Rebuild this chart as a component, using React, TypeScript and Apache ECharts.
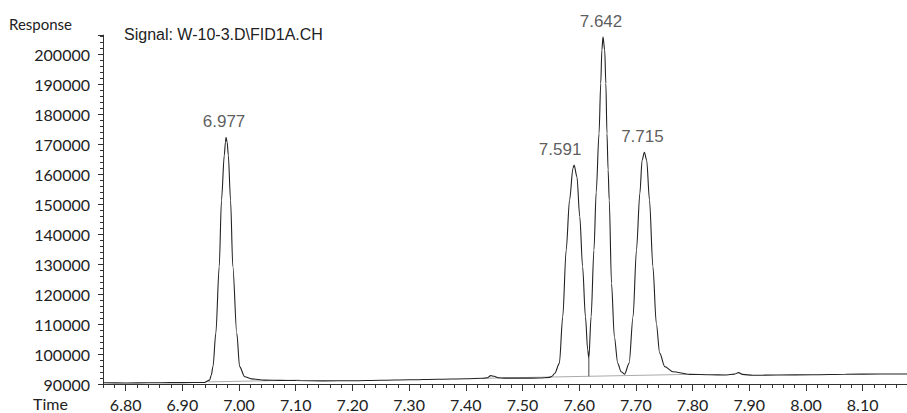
import React, { useEffect, useRef } from 'react';
import * as echarts from 'echarts';

const signalTitle = 'Signal: W-10-3.D\\FID1A.CH';
const yAxisTitle = 'Response';
const xAxisTitle = 'Time';

// Chromatogram trace: [time (min), response]
const trace: [number, number][] = [
  [6.76, 90400], [6.8, 90350], [6.84, 90400], [6.88, 90450], [6.92, 90500], [6.939, 90500],
  [6.948, 91300], [6.951, 93000], [6.954, 95800], [6.959, 106900], [6.965, 129200], [6.969, 151400],
  [6.974, 166500], [6.976, 170800], [6.977, 172400], [6.979, 170800], [6.981, 166500], [6.985, 151400],
  [6.989, 129200], [6.996, 106900], [7.001, 95800], [7.01, 92400], [7.022, 91700], [7.045, 91300],
  [7.072, 91200], [7.1, 91150], [7.15, 91050], [7.2, 91100], [7.25, 91250], [7.3, 91400],
  [7.35, 91600], [7.4, 91750], [7.43, 91900], [7.438, 92100], [7.444, 92800], [7.45, 92600],
  [7.457, 92100], [7.47, 91950], [7.5, 91950], [7.53, 92000], [7.548, 92200], [7.552, 92600],
  [7.557, 93600], [7.565, 96900], [7.571, 112500], [7.577, 134700], [7.583, 151400], [7.589, 162000],
  [7.591, 163100], [7.596, 159200], [7.601, 145900], [7.606, 129200], [7.611, 112500], [7.615, 101400],
  [7.617, 98600], [7.621, 112500], [7.626, 134700], [7.63, 154100], [7.635, 173700], [7.638, 190400],
  [7.64, 201500], [7.642, 205900], [7.645, 201500], [7.647, 190400], [7.649, 173700], [7.651, 161500],
  [7.653, 151400], [7.657, 123600], [7.662, 105800], [7.668, 96900], [7.674, 94100], [7.68, 93300],
  [7.688, 96900], [7.695, 112500], [7.701, 134700], [7.707, 153700], [7.711, 164800], [7.715, 167400],
  [7.719, 164800], [7.724, 151400], [7.73, 129200], [7.736, 110300], [7.742, 100300], [7.751, 95800],
  [7.765, 94100], [7.795, 93200], [7.83, 93100], [7.86, 93000], [7.874, 93300], [7.881, 93800],
  [7.888, 93200], [7.906, 92900], [7.95, 93000], [8.012, 93100], [8.07, 93250], [8.13, 93350],
  [8.18, 93350],
];

const peakTimes = [6.977, 7.591, 7.642, 7.715];
const peakResponses = [172400, 163100, 205900, 167400];
const peakLabels = ['6.977', '7.591', '7.642', '7.715'];

const integrationBaselines: [number, number][][] = [
  [[6.945, 90700], [7.107, 91300]],
  [[7.43, 91900], [7.79, 93200]],
];
const dropLines: [number, number][][] = [
  [[7.617, 92580], [7.617, 98600]],
];

const xTickValues = [6.8, 6.9, 7.0, 7.1, 7.2, 7.3, 7.4, 7.5, 7.6, 7.7, 7.8, 7.9, 8.0, 8.1];
const xMin = 6.76;
const xMax = 8.18;
const yMin = 90000;
const yMax = 206500;

const AXIS_COLOR = '#333';
const LABEL_FONT = 'Lato';

export default function App() {
  const ref = useRef<HTMLDivElement>(null);
  useEffect(() => {
    if (!ref.current) return;
    const chart = echarts.init(ref.current, undefined, { renderer: 'svg' });
    const labelShift: Record<string, number> = { '7.591': -14 };
    chart.setOption({
      animation: false,
      backgroundColor: '#fff',
      title: {
        text: signalTitle,
        left: 124,
        top: 26,
        padding: 0,
        textStyle: { fontFamily: 'Liberation Sans', fontSize: 16, fontWeight: 'normal', color: '#222' },
      },
      graphic: [
        {
          type: 'text', left: 9, top: 16,
          style: { text: yAxisTitle, fontFamily: LABEL_FONT, fontSize: 15, fill: '#222' },
        },
        {
          type: 'text', left: 33, top: 395,
          style: { text: xAxisTitle, fontFamily: LABEL_FONT, fontSize: 16, fill: '#222' },
        },
      ],
      grid: { left: 103, top: 35.1, width: 805, height: 348.9, containLabel: false, outerBoundsMode: 'none' },
      xAxis: [
        {
          type: 'value', min: xMin, max: xMax, interval: 0.02, position: 'bottom',
          axisLine: { show: true, onZero: false, lineStyle: { color: AXIS_COLOR, width: 1 } },
          axisTick: { show: true, length: 4, inside: false, lineStyle: { color: AXIS_COLOR } },
          axisLabel: { show: false },
          splitLine: { show: false },
        },
        {
          type: 'value', min: xMin, max: xMax, position: 'bottom',
          axisLine: { show: false, onZero: false },
          axisTick: { show: true, length: 7, customValues: xTickValues, lineStyle: { color: AXIS_COLOR } },
          axisLabel: {
            show: true, customValues: xTickValues, margin: 12,
            formatter: (v: number) => v.toFixed(2),
            fontFamily: LABEL_FONT, fontSize: 16, color: '#222',
          },
          splitLine: { show: false },
        },
      ],
      yAxis: {
        type: 'value', min: yMin, max: yMax, interval: 10000,
        axisLine: { show: true, onZero: false, lineStyle: { color: AXIS_COLOR, width: 1 } },
        axisTick: { show: true, length: 5, inside: false, lineStyle: { color: AXIS_COLOR } },
        minorTick: { show: true, splitNumber: 5, length: 3, lineStyle: { color: AXIS_COLOR } },
        axisLabel: {
          margin: 13, showMaxLabel: false, fontFamily: LABEL_FONT, fontSize: 16, color: '#222',
          formatter: (v: number) => String(v),
        },
        splitLine: { show: false },
        minorSplitLine: { show: false },
      },
      series: [
        ...integrationBaselines.map((seg) => ({
          type: 'line', data: seg, xAxisIndex: 0, showSymbol: false, silent: true,
          lineStyle: { color: '#aaa', width: 1 },
        })),
        ...dropLines.map((seg) => ({
          type: 'line', data: seg, xAxisIndex: 0, showSymbol: false, silent: true,
          lineStyle: { color: '#444', width: 1 },
        })),
        {
          type: 'line', data: trace, xAxisIndex: 0, showSymbol: false,
          smooth: 0.3, smoothMonotone: 'x',
          lineStyle: { color: '#222', width: 1.1 },
        },
        {
          type: 'scatter', xAxisIndex: 0, symbolSize: 0,
          data: peakTimes.map((t, i) => ({
            name: peakLabels[i], value: [t, peakResponses[i]],
            label: { offset: [labelShift[peakLabels[i]] ?? -2, 0] },
          })),
          label: {
            show: true, position: 'top', distance: 7,
            formatter: (p: any) => p.name,
            fontFamily: 'Liberation Sans', fontSize: 17, color: '#333',
          },
        },
      ],
    });
    return () => chart.dispose();
  }, []);
  return <div ref={ref} style={{ position: 'fixed', left: 0, top: 0, width: 907, height: 413 }} />;
}
